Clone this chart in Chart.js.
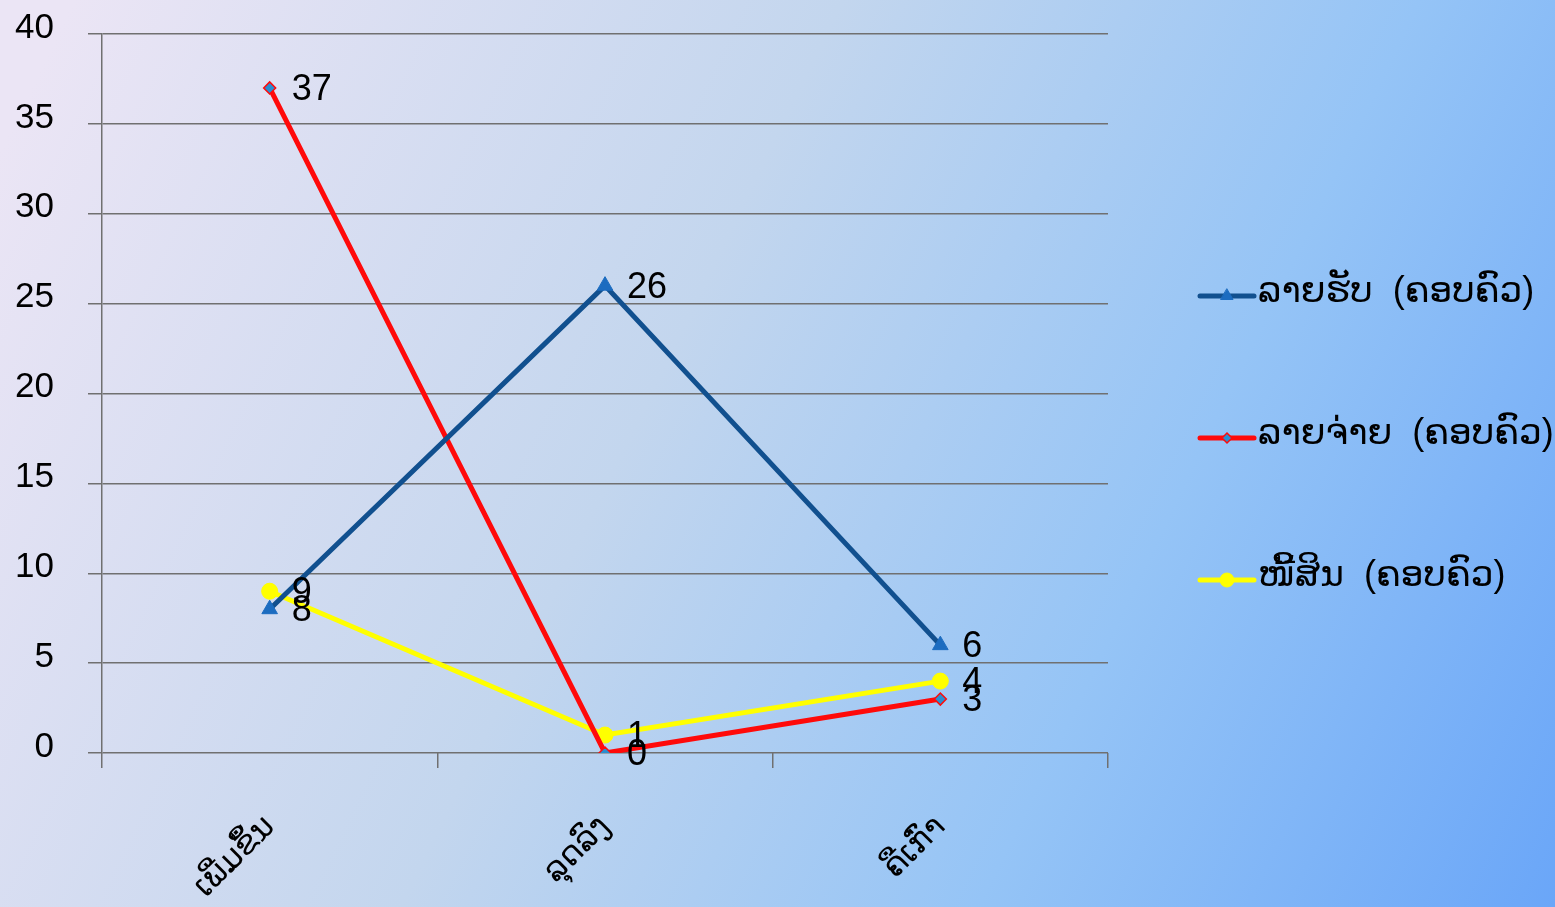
<!DOCTYPE html>
<html>
<head>
<meta charset="utf-8">
<script src="https://cdn.jsdelivr.net/npm/chart.js@4.4.0/dist/chart.umd.min.js"></script>
<style>
  html, body { margin: 0; padding: 0; overflow: hidden; }
  #wrap { width: 1555px; height: 907px; }
</style>
</head>
<body>
<div id="wrap"><canvas id="chartJS" width="1555" height="907"></canvas></div>
<script>
// data
const categories = ['ເພີ່ມຂຶ້ນ', 'ລຸດລົງ', 'ຄືເກົ່າ'];
const seriesNames = ['ລາຍຮັບ  (ຄອບຄົວ)', 'ລາຍຈ່າຍ  (ຄອບຄົວ)', 'ໜີ້ສິນ  (ຄອບຄົວ)'];
const income = [8, 26, 6];
const expense = [37, 0, 3];
const debt = [9, 1, 4];
const yTicks = [0, 5, 10, 15, 20, 25, 30, 35, 40];

const FONT = '"Liberation Sans", "DejaVu Sans", Arial, sans-serif';

// background gradient
const bgPlugin = {
  id: 'bg',
  beforeDraw(chart) {
    const ctx = chart.ctx;
    const w = chart.width, h = chart.height;
    const g = ctx.createLinearGradient(0, 150, w, h);
    g.addColorStop(0, '#ebe5f5');
    g.addColorStop(0.4, '#c3d6ee');
    g.addColorStop(0.7, '#95c4f6');
    g.addColorStop(1, '#6aa6f8');
    ctx.save();
    ctx.fillStyle = g;
    ctx.fillRect(0, 0, w, h);
    ctx.restore();
  }
};

// value labels next to points
const valueLabels = {
  id: 'valueLabels',
  afterDatasetsDraw(chart) {
    const ctx = chart.ctx;
    ctx.save();
    ctx.font = '36px ' + FONT;
    ctx.fillStyle = '#000';
    ctx.textAlign = 'left';
    ctx.textBaseline = 'middle';
    chart.data.datasets.forEach((ds, i) => {
      chart.getDatasetMeta(i).data.forEach((pt, j) => {
        ctx.fillText(String(ds.data[j]), pt.x + 22, pt.y + 2);
      });
    });
    ctx.restore();
  }
};

// legend on the right: line with marker, then name
const sideLegend = {
  id: 'sideLegend',
  afterDraw(chart) {
    const ctx = chart.ctx;
    const x0 = 1200, x1 = 1254;
    const ys = [296, 438, 580];
    const radii = [7, 5, 7];
    ctx.save();
    chart.data.datasets.forEach((ds, i) => {
      const y = ys[i];
      ctx.strokeStyle = ds.borderColor;
      ctx.lineWidth = 5;
      ctx.lineCap = 'round';
      ctx.beginPath();
      ctx.moveTo(x0, y);
      ctx.lineTo(x1, y);
      ctx.stroke();
      ctx.fillStyle = ds.pointBackgroundColor;
      ctx.strokeStyle = ds.pointBorderColor;
      ctx.lineWidth = ds.pointBorderWidth;
      Chart.helpers.drawPoint(ctx, {
        pointStyle: ds.pointStyle,
        radius: radii[i],
        borderWidth: ds.pointBorderWidth
      }, (x0 + x1) / 2, y);
      ctx.fillStyle = '#000';
      ctx.font = '36px ' + FONT;
      ctx.textAlign = 'left';
      ctx.textBaseline = 'middle';
      ctx.fillText(ds.label, x1 + 4, y - 4);
    });
    ctx.restore();
  }
};

const cfg = {
  type: 'line',
  data: {
    labels: categories,
    datasets: [{
      label: seriesNames[0],
      data: income,
      borderColor: '#11508f',
      borderWidth: 5,
      pointStyle: 'triangle',
      pointRadius: 9,
      pointBackgroundColor: '#1c6cc0',
      pointBorderColor: '#1c6cc0',
      pointBorderWidth: 1,
      tension: 0
    }, {
      label: seriesNames[1],
      data: expense,
      borderColor: '#ff0a0a',
      borderWidth: 5,
      pointStyle: 'rectRot',
      pointRadius: 6,
      pointBackgroundColor: '#2a8ed0',
      pointBorderColor: '#ff0a0a',
      pointBorderWidth: 1.5,
      tension: 0
    }, {
      label: seriesNames[2],
      data: debt,
      borderColor: '#ffff00',
      borderWidth: 5,
      pointStyle: 'circle',
      pointRadius: 8,
      pointBackgroundColor: '#ffff00',
      pointBorderColor: '#ffff00',
      pointBorderWidth: 1,
      tension: 0
    }]
  },
  options: {
    responsive: false,
    animation: false,
    layout: { padding: { top: 34, right: 447, left: 0, bottom: 0 } },
    plugins: {
      legend: { display: false },
      tooltip: { enabled: false }
    },
    scales: {
      x: {
        offset: true,
        grid: {
          offset: true,
          drawOnChartArea: false,
          drawTicks: true,
          tickLength: 15,
          color: '#707070',
          lineWidth: 1.5
        },
        border: { display: false },
        ticks: {
          minRotation: 45,
          maxRotation: 45,
          padding: 40,
          color: '#000',
          font: { family: FONT, size: 32 }
        },
        afterFit(scale) { scale.height = 154; }
      },
      y: {
        min: 0,
        max: 40,
        afterBuildTicks(scale) { scale.ticks = yTicks.map(v => ({ value: v })); },
        grid: {
          color: '#707070',
          lineWidth: 1.5,
          tickLength: 14
        },
        border: { display: true, color: '#707070', width: 1.5 },
        ticks: {
          padding: 34,
          labelOffset: -6,
          color: '#000',
          font: { family: FONT, size: 35 }
        },
        afterFit(scale) {
          scale.width = 102;
          scale.paddingTop = 0;
          scale.paddingBottom = 0;
        }
      }
    }
  },
  plugins: [bgPlugin, valueLabels, sideLegend]
};

new Chart(document.getElementById('chartJS'), cfg);
</script>
</body>
</html>
